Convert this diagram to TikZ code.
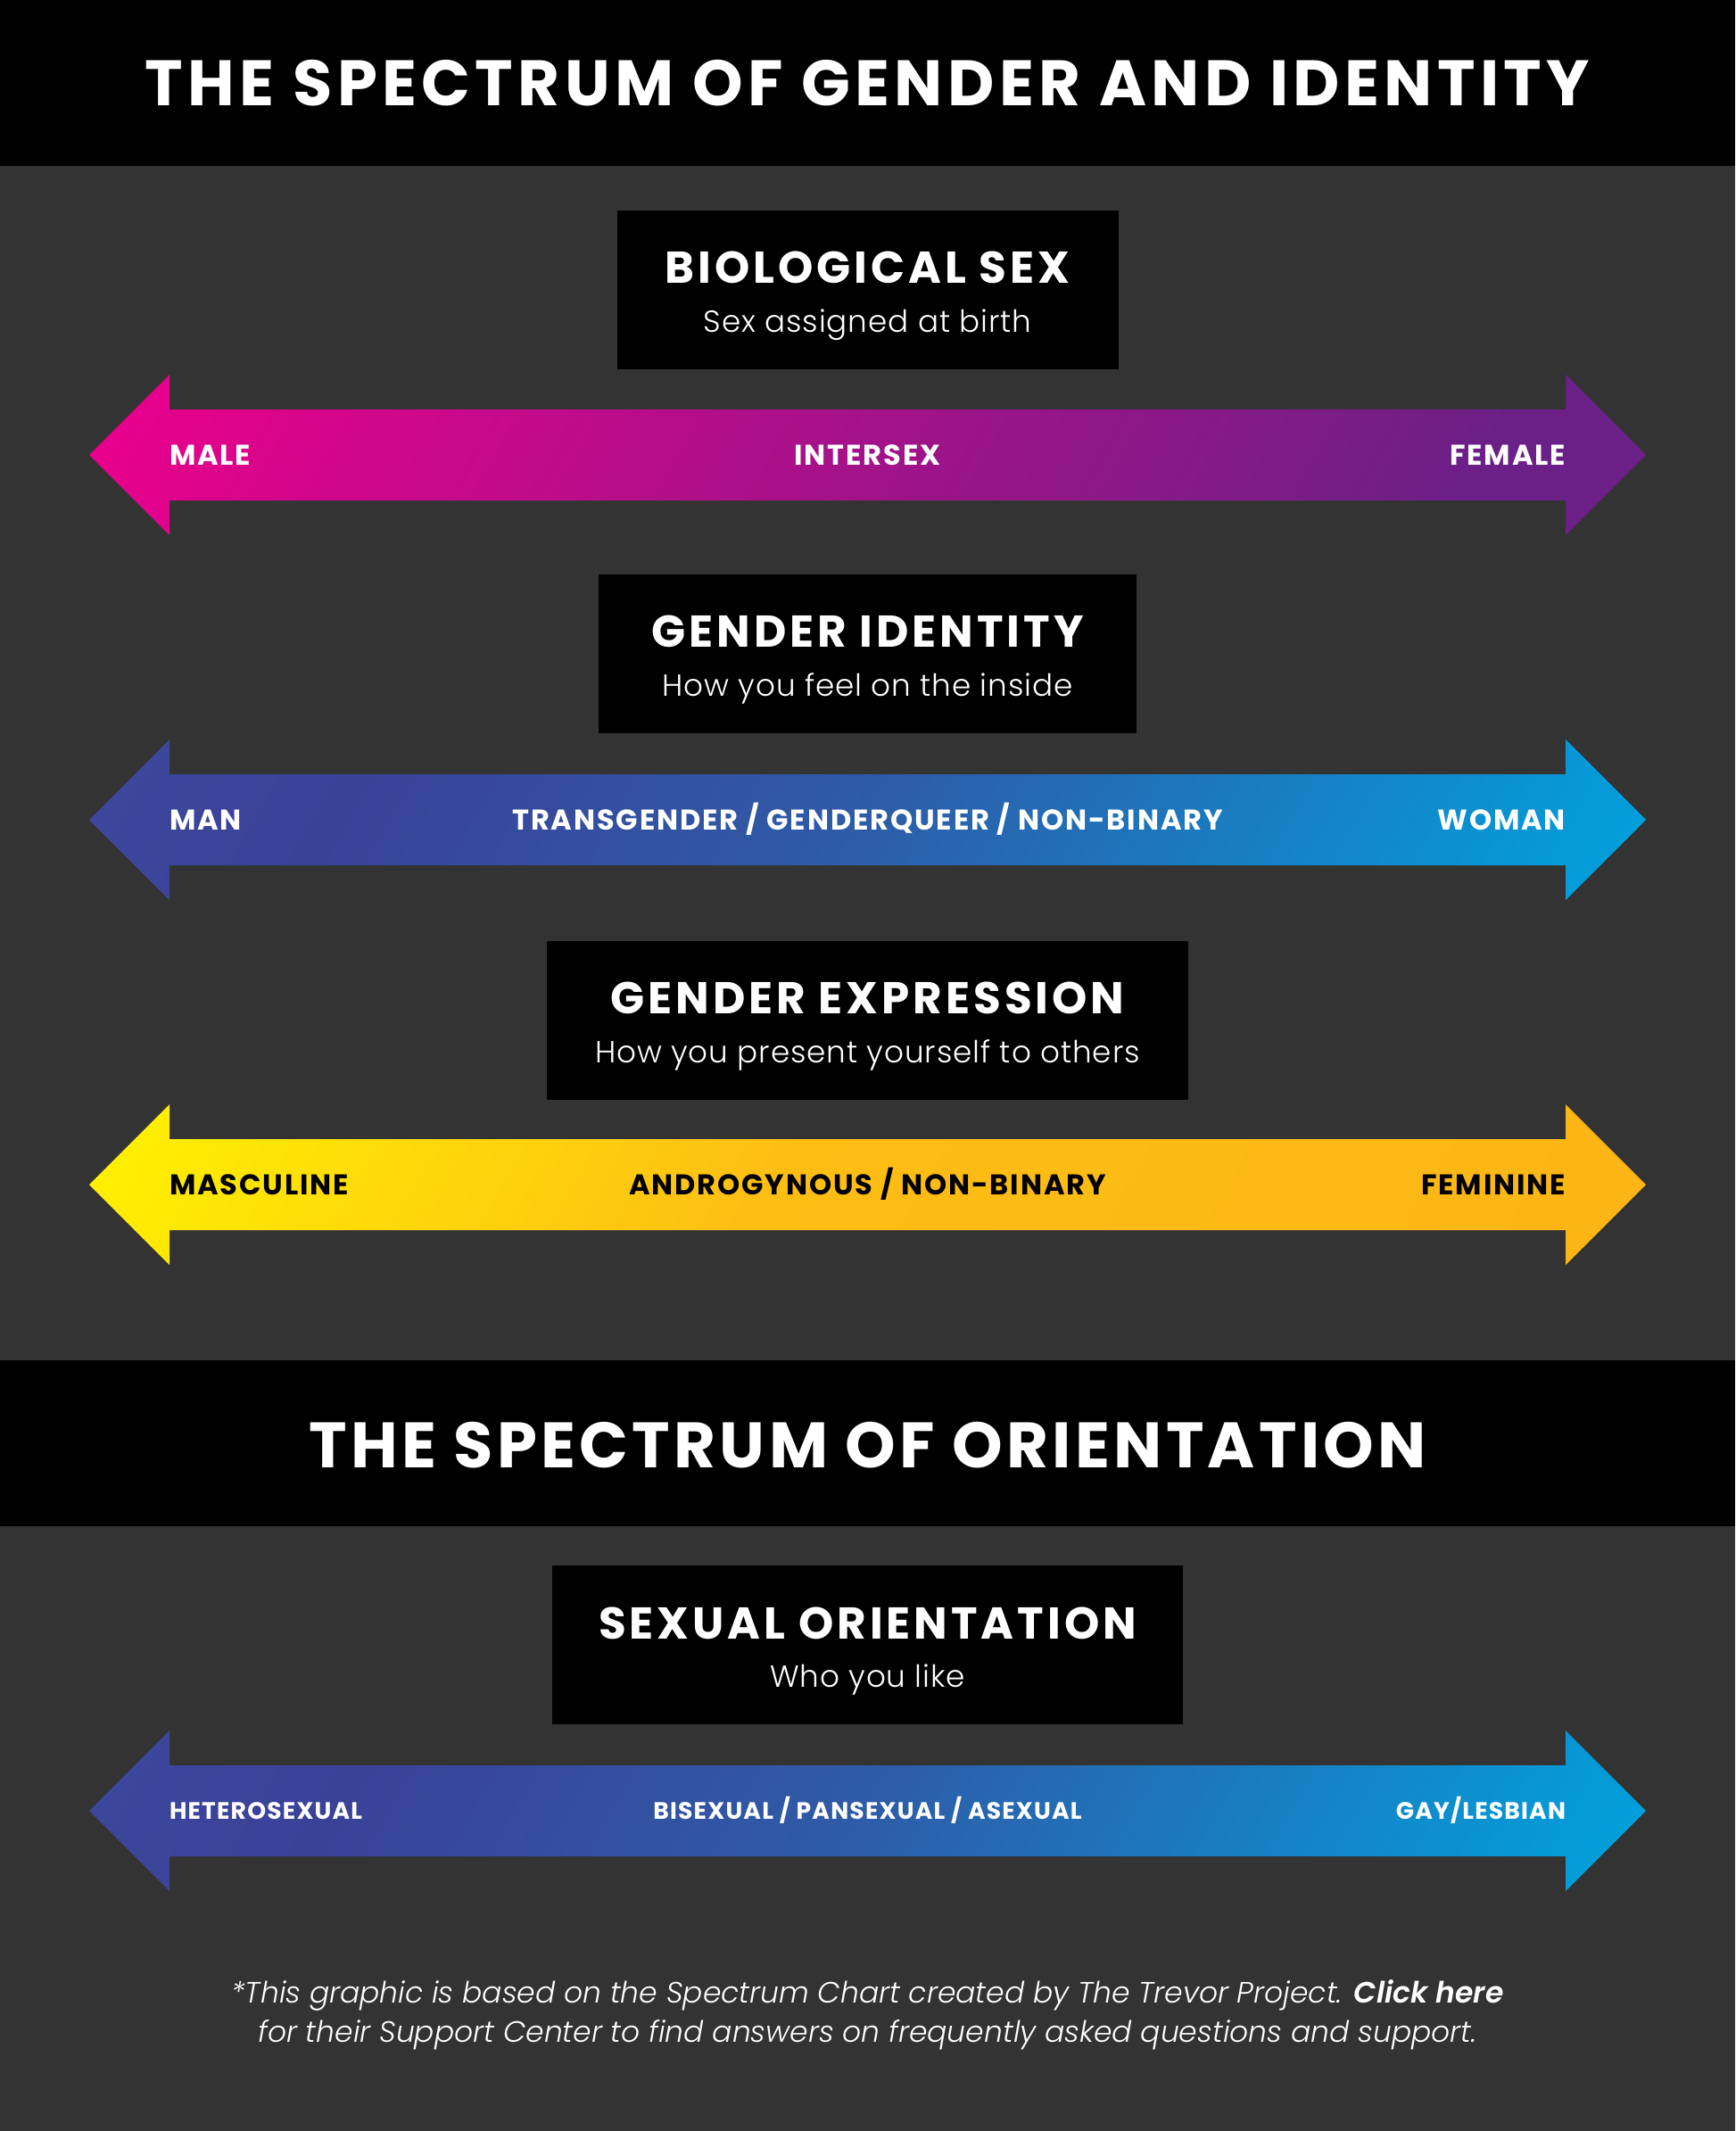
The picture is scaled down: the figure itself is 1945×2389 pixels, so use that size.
\documentclass[tikz,border=0pt]{standalone}
\usepackage{fontspec}
\setmainfont{Poppins}[BoldFont=* Bold,ItalicFont=* Light Italic,BoldItalicFont=* SemiBold Italic]
\newfontfamily\lightfont{Poppins Light}
\definecolor{bandgrey}{HTML}{333333}
\definecolor{sexleft}{HTML}{EC008C}
\definecolor{sexright}{HTML}{6B2087}
\definecolor{blueleft}{HTML}{3C479C}
\definecolor{bluelow}{HTML}{3A4298}
\definecolor{bluemid}{HTML}{2E5CA8}
\definecolor{blueright}{HTML}{00A3DE}
\definecolor{expleft}{HTML}{FFF200}
\definecolor{expmid}{HTML}{FDBE14}
\definecolor{expright}{HTML}{FBB516}
\pgfdeclarehorizontalshading{sexshade}{100bp}{color(0bp)=(sexleft); color(16bp)=(sexleft); color(76bp)=(sexright); color(100bp)=(sexright)}
\pgfdeclarehorizontalshading{blueshade}{100bp}{color(0bp)=(blueleft); color(16bp)=(blueleft); color(28bp)=(bluelow); color(50bp)=(bluemid); color(84bp)=(blueright); color(100bp)=(blueright)}
\pgfdeclarehorizontalshading{expshade}{100bp}{color(0bp)=(expleft); color(16bp)=(expleft); color(46bp)=(expmid); color(84bp)=(expright); color(100bp)=(expright)}
\tikzstyle{every picture}+=[x=0.5pt,y=-0.5pt]
\tikzstyle{every node}=[inner sep=0pt,outer sep=0pt]
\tikzstyle{banner}=[fill=black,minimum width=972.5pt,minimum height=93pt,anchor=north west]
\tikzstyle{headbox}=[fill=black,minimum height=89pt]
\tikzstyle{maintitle}=[text=white,anchor=base,font=\fontsize{36}{36}\selectfont\bfseries\addfontfeatures{LetterSpace=7.5}]
\tikzstyle{orienttitle}=[maintitle,font=\fontsize{36}{36}\selectfont\bfseries\addfontfeatures{LetterSpace=6}]
\tikzstyle{boxtitle}=[text=white,anchor=base,font=\fontsize{25}{25}\selectfont\bfseries\addfontfeatures{LetterSpace=8}]
\tikzstyle{boxsub}=[text=white,anchor=base,font=\fontsize{17.1}{17.1}\selectfont\lightfont\addfontfeatures{LetterSpace=2.7}]
\tikzstyle{lab}=[text=white,font=\fontsize{16}{16}\selectfont\bfseries\addfontfeatures{LetterSpace=6}]
\tikzstyle{smalllab}=[lab,font=\fontsize{13.3}{13.3}\selectfont\bfseries\addfontfeatures{LetterSpace=4.5}]
\tikzstyle{foot}=[text=white,anchor=base,font=\fontsize{16.5}{16.5}\selectfont\itshape]
\tikzstyle{sexarrow}=[shading=sexshade,shading angle=-30]
\tikzstyle{bluearrow}=[shading=blueshade,shading angle=-30]
\tikzstyle{exparrow}=[shading=expshade,shading angle=-30]

\begin{document}
\begin{tikzpicture}
\useasboundingbox (0,0) rectangle (1945,2389);
\fill[bandgrey] (0,0) rectangle (1945,2389);

\node[banner] (top) at (0,0) {};
\node[banner] (orient) at (0,1525) {};
\node[maintitle] (toptext) at (972.5,118) {THE SPECTRUM OF GENDER AND IDENTITY};
\node[orienttitle] (orienttext) at (972.5,1645) {THE SPECTRUM OF ORIENTATION};

\node[headbox,minimum width=281pt] (bio) at (972.5,325) {};
\node[boxtitle] (biotitle) at (972.5,317) {BIOLOGICAL SEX};
\node[boxsub] (biosub) at (972.5,372) {Sex assigned at birth};
\shade[sexarrow] (100,510) -- (190,420) -- (190,459) -- (1755,459) -- (1755,420) -- (1845,510) -- (1755,600) -- (1755,561) -- (190,561) -- (190,600) -- cycle;
\node[lab,anchor=base west] (male) at (190,521) {MALE};
\node[lab,anchor=base] (intersex) at (972.5,521) {INTERSEX};
\node[lab,anchor=base east] (female) at (1755,521) {FEMALE};

\node[headbox,minimum width=301.5pt] (identity) at (972.5,733) {};
\node[boxtitle] (identitytitle) at (972.5,725) {GENDER IDENTITY};
\node[boxsub] (identitysub) at (972.5,780) {How you feel on the inside};
\shade[bluearrow] (100,919) -- (190,829) -- (190,868) -- (1755,868) -- (1755,829) -- (1845,919) -- (1755,1009) -- (1755,970) -- (190,970) -- (190,1009) -- cycle;
\node[lab,anchor=base west] (man) at (190,930) {MAN};
\node[lab,anchor=base] (trans) at (972.5,930) {TRANSGENDER / GENDERQUEER / NON-BINARY};
\node[lab,anchor=base east] (woman) at (1755,930) {WOMAN};

\node[headbox,minimum width=359.5pt] (express) at (972.5,1144) {};
\node[boxtitle] (expresstitle) at (972.5,1136) {GENDER EXPRESSION};
\node[boxsub] (expresssub) at (972.5,1191) {How you present yourself to others};
\shade[exparrow] (100,1328) -- (190,1238) -- (190,1277) -- (1755,1277) -- (1755,1238) -- (1845,1328) -- (1755,1418) -- (1755,1379) -- (190,1379) -- (190,1418) -- cycle;
\node[lab,text=black,anchor=base west] (masc) at (190,1339) {MASCULINE};
\node[lab,text=black,anchor=base] (andro) at (972.5,1339) {ANDROGYNOUS / NON-BINARY};
\node[lab,text=black,anchor=base east] (fem) at (1755,1339) {FEMININE};

\node[headbox,minimum width=353.5pt] (sexual) at (972.5,1844) {};
\node[boxtitle] (sexualtitle) at (972.5,1837) {SEXUAL ORIENTATION};
\node[boxsub] (sexualsub) at (972.5,1891) {Who you like};
\shade[bluearrow] (100,2030) -- (190,1940) -- (190,1979) -- (1755,1979) -- (1755,1940) -- (1845,2030) -- (1755,2120) -- (1755,2081) -- (190,2081) -- (190,2120) -- cycle;
\node[smalllab,anchor=base west] (hetero) at (190,2039) {HETEROSEXUAL};
\node[smalllab,anchor=base] (bi) at (972.5,2039) {BISEXUAL / PANSEXUAL / ASEXUAL};
\node[smalllab,anchor=base east] (gay) at (1755,2039) {GAY/LESBIAN};

\node[foot] (footone) at (972.5,2245) {*This graphic is based on the Spectrum Chart created by The Trevor Project. \textbf{Click here}};
\node[foot] (foottwo) at (972.5,2289) {for their Support Center to find answers on frequently asked questions and support.};
\end{tikzpicture}
\end{document}
